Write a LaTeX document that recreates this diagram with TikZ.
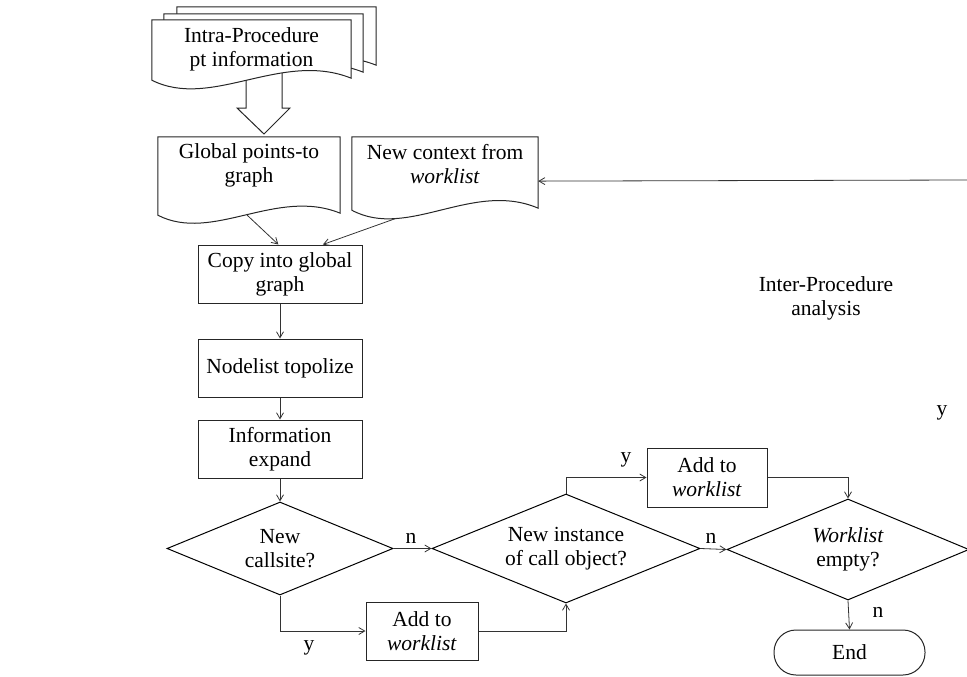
\documentclass[tikz,border=0pt]{standalone}
\usepackage{fontspec}
\setmainfont{Liberation Serif}
\usetikzlibrary{shapes.geometric,arrows.meta,calc}
\pgfdeclarelayer{bg}
\pgfsetlayers{bg,main}

\tikzset{
  box/.style={draw=black!85, line width=1pt, rectangle, minimum width=164pt, minimum height=58pt, inner sep=0pt, align=center, fill=white},
  docbox/.style={rectangle, inner sep=0pt, align=center},
  docline/.style={draw=black!85, line width=1pt, fill=white},
  dec/.style={draw=black, line width=1pt, diamond, inner sep=0pt, align=center},
  term/.style={draw=black!85, line width=1pt, rectangle, rounded corners=22pt, minimum width=151pt, minimum height=45pt, inner sep=0pt},
  conn/.style={draw=black!80, line width=0.8pt, -{Straight Barb[length=6pt,width=7pt]}},
  lbl/.style={inner sep=0pt, align=center},
}

% #1 node name, #2 drop below node, #3 dx, #4 dy, #5 wave amplitude
\newcommand{\docoutline}[5]{%
  \draw[docline] ($(#1.north west)+(#3,#4)$) -- ($(#1.north east)+(#3,#4)$)
    -- ($(#1.south east)+(#3,#4)+(0,#2-2)$)
    .. controls ($(#1.south west)!0.65!(#1.south east)+(#3,#4)+(0,#2-#5)$)
    and ($(#1.south west)!0.3!(#1.south east)+(#3,#4)+(0,#2+#5)$)
    .. ($(#1.south west)+(#3,#4)+(0,#2)$) -- cycle;}

\begin{document}
\begin{tikzpicture}[x=1pt,y=-1pt,font=\fontsize{21.5}{24}\selectfont]
\useasboundingbox (0,0) rectangle (967,677);
\clip (0,0) rectangle (967,677);

% document shapes (text nodes; outlines on background layer)
\node[docbox, minimum width=199pt, minimum height=58pt] (intra) at (251.5,49) {Intra-Procedure\\pt information};
\node[docbox, minimum width=182pt, minimum height=57pt] (global) at (249,165.5) {Global points-to\\graph};
\node[docbox, minimum width=186pt, minimum height=55pt] (ctx) at (445,164.5) {New context from\\\textit{worklist}};

\begin{pgfonlayer}{bg}
  % hollow block arrow
  \draw[docline] (246,68) -- (282,68) -- (282,108) -- (290,108) -- (264,134) -- (237,108) -- (246,108) -- cycle;
  \docoutline{intra}{2}{25}{-13}{30}
  \docoutline{intra}{2}{12}{-6}{30}
  \docoutline{intra}{2}{0}{0}{30}
  \docoutline{global}{21}{0}{0}{28}
  \docoutline{ctx}{18}{0}{0}{30}
\end{pgfonlayer}

\coordinate (gout) at ($(global.south west)!0.49!(global.south east)+(0,21)$);
\coordinate (cout) at ($(ctx.south west)!0.24!(ctx.south east)+(0,26)$);
\coordinate (fbin) at (967,180);

% process boxes
\node[box] (copy) at (280,274) {Copy into global\\graph};
\node[box] (topo) at (280,368) {Nodelist topolize};
\node[box] (expand) at (280,449) {Information\\expand};

% decisions
\node[dec, minimum width=226pt, minimum height=93pt, shape aspect=2.43] (call) at (280,548.5) {New\\callsite?};
\node[dec, minimum width=268pt, minimum height=109pt, shape aspect=2.46] (inst) at (566,548.5) {New instance\\of call object?};
\node[dec, minimum width=242pt, minimum height=101pt, shape aspect=2.4] (empty) at (848,549.5) {\textit{Worklist}\\empty?};

\node[box, minimum width=112pt] (add1) at (422,631) {Add to\\\textit{worklist}};
\node[box, minimum width=120pt, minimum height=59pt] (add2) at (707,477.5) {Add to\\\textit{worklist}};
\node[term] (end) at (849.5,652.5) {End};

\node[lbl] (inter) at (826,298) {Inter-Procedure\\analysis};

% connectors
\draw[conn] (gout) -- ($(copy.north west)!0.49!(copy.north east)$);
\draw[conn] (cout) -- ($(copy.north west)!0.76!(copy.north east)$);
\draw[conn] (fbin) -- ($(ctx.north east)!0.8!(ctx.south east)$);
\draw[conn] (copy) -- (topo);
\draw[conn] (topo) -- (expand);
\draw[conn] (expand) -- (call);
\draw[conn] (call.east) -- (inst.west);
\draw[conn] (call.south) |- (add1.west);
\draw[conn] (add1.east) -| (inst.south);
\draw[conn] (inst.north) |- (add2.west);
\draw[conn] (add2.east) -| (empty.north);
\draw[conn] (inst.east) -- (empty.west);
\draw[conn] (empty.south) -- (end.north);

% branch labels
\node[lbl] (ln1) at (411,538) {n};
\node[lbl] (ly1) at (309,648) {y};
\node[lbl] (ly2) at (626,460) {y};
\node[lbl] (ln2) at (711,538) {n};
\node[lbl] (ln3) at (878,612) {n};
\node[lbl] (ly3) at (942,413) {y};
\end{tikzpicture}
\end{document}
